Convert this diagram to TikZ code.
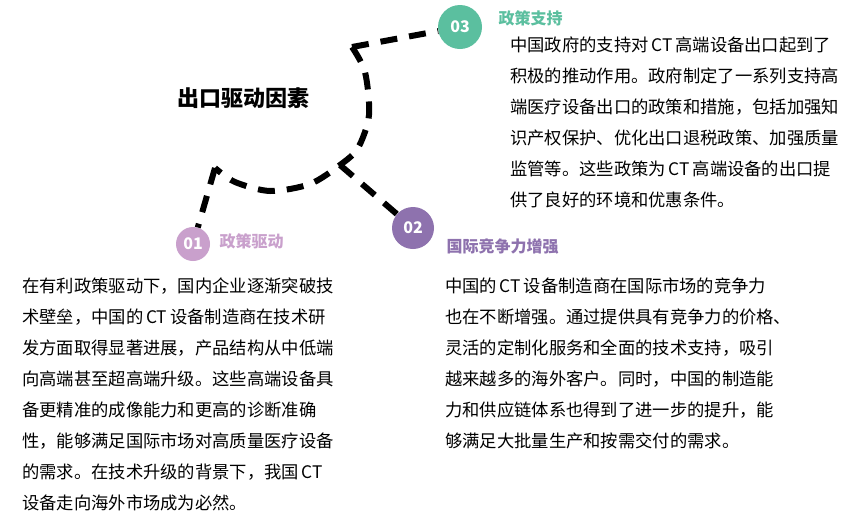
\documentclass[tikz,border=0pt]{standalone}
\usepackage{fontspec}
\setmainfont{Noto Sans CJK SC}
\definecolor{cA}{HTML}{C9A0CC}
\definecolor{cB}{HTML}{8E72AE}
\definecolor{cC}{HTML}{5BBF9F}
\tikzset{
 dline/.style={line width=6pt,dash pattern=on 17pt off 12pt,black},
 num/.style={circle,minimum size=#1,inner sep=0pt,text=white,font=\bfseries\fontsize{16}{16}\selectfont},
 head/.style={anchor=west,font=\bfseries\fontsize{16}{16}\selectfont},
 body/.style={anchor=north west,align=left,font=\fontsize{17.3}{31}\selectfont,inner sep=0pt}
}
\newcommand{\CT}{\,\textit{CT}\,}
\begin{document}
\begin{tikzpicture}[x=1pt,y=-1pt]
\useasboundingbox[fill=white] (0,0) rectangle (853,520);
\coordinate (a) at (352,47);
\coordinate (j) at (340,165);
\coordinate (b) at (215,168);
\node[num=44pt,fill=cC] (n3) at (460,27) {03};
\node[num=42pt,fill=cB] (n2) at (413,228) {02};
\node[num=34pt,fill=cA] (n1) at (193,244) {01};
\draw[dline] plot[smooth] coordinates {(352,47) (365,72) (369,115) (358,148) (340,165) (310,184) (270,191) (235,182) (215,168)};
\draw[dline] (a) -- (n3);
\draw[dline] (j) -- (n2);
\draw[dline] (b) -- (n1);
\node[font=\bfseries\fontsize{22}{22}\selectfont] (t) at (243,98) {出口驱动因素};
\node[head,text=cC] (h3) at (495,18) {政策支持};
\node[head,text=cA] (h1) at (216,241) {政策驱动};
\node[head,text=cB] (h2) at (443,246) {国际竞争力增强};
\node[body] (b3) at (510,37) {中国政府的支持对\CT 高端设备出口起到了\\积极的推动作用。政府制定了一系列支持高\\端医疗设备出口的政策和措施，包括加强知\\识产权保护、优化出口退税政策、加强质量\\监管等。这些政策为\CT 高端设备的出口提\\供了良好的环境和优惠条件。};
\node[body] (b1) at (22,278) {在有利政策驱动下，国内企业逐渐突破技\\术壁垒，中国的\CT 设备制造商在技术研\\发方面取得显著进展，产品结构从中低端\\向高端甚至超高端升级。这些高端设备具\\备更精准的成像能力和更高的诊断准确\\性，能够满足国际市场对高质量医疗设备\\的需求。在技术升级的背景下，我国\CT\\设备走向海外市场成为必然。};
\node[body] (b2) at (445,278) {中国的\CT 设备制造商在国际市场的竞争力\\也在不断增强。通过提供具有竞争力的价格、\\灵活的定制化服务和全面的技术支持，吸引\\越来越多的海外客户。同时，中国的制造能\\力和供应链体系也得到了进一步的提升，能\\够满足大批量生产和按需交付的需求。};
\end{tikzpicture}
\end{document}
